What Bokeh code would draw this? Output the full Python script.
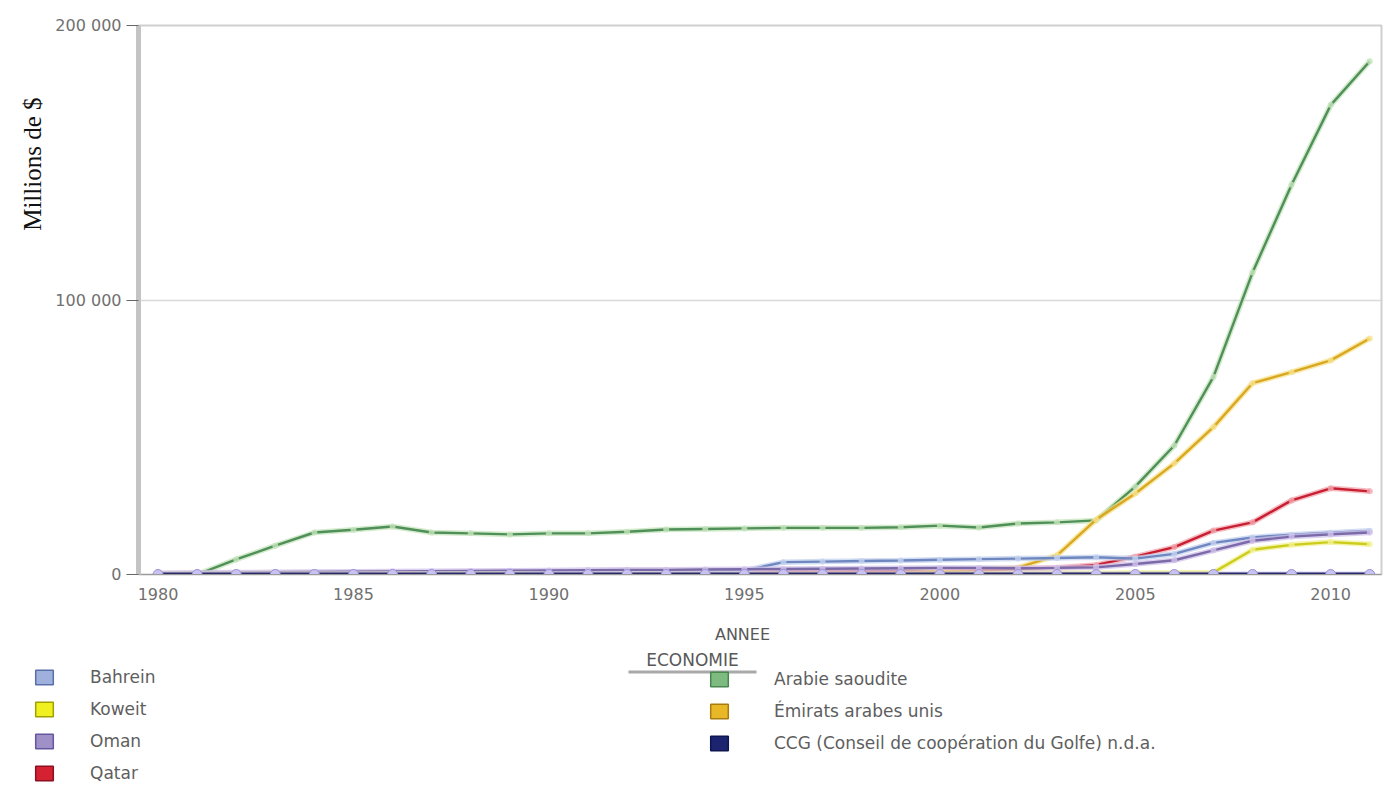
from bokeh.plotting import figure
from bokeh.models import Range1d, FixedTicker, Legend, LegendItem, Label, BoxAnnotation, Title
from bokeh.layouts import column
from bokeh.embed import file_html
from bokeh.resources import INLINE

years = list(range(1980, 2012))

arabie_saoudite = [0, 0, 5500, 10500, 15300, 16300, 17500, 15300, 15000, 14600,
                   15000, 15000, 15600, 16400, 16600, 16800, 17000, 17000, 17000, 17200,
                   17800, 17100, 18600, 19000, 19700, 32000, 47000, 72000, 110000, 142000,
                   171000, 187000]
emirats = [300, 350, 400, 450, 500, 500, 550, 550, 600, 650,
           700, 750, 800, 1000, 1100, 1200, 1300, 1400, 1500, 1600,
           1700, 1800, 2500, 7000, 20000, 29500, 40500, 53700, 69700, 73700,
           78000, 86000]
qatar = [50, 60, 70, 80, 90, 100, 110, 120, 130, 150,
         200, 250, 400, 600, 700, 800, 900, 1000, 1100, 1200,
         1300, 1500, 2000, 2500, 3500, 6500, 10000, 16000, 19000, 27000,
         31400, 30300]
bahrein = [100, 150, 200, 250, 300, 350, 400, 450, 500, 520,
           550, 600, 650, 700, 900, 1400, 4500, 4700, 4900, 5100,
           5400, 5600, 5800, 6000, 6300, 5800, 7500, 11500, 13500, 14500,
           15200, 15900]
oman = [500, 600, 700, 800, 900, 1000, 1100, 1200, 1300, 1400,
        1500, 1600, 1700, 1700, 1800, 1900, 2000, 2100, 2200, 2300,
        2400, 2400, 2300, 2400, 2600, 3800, 5200, 8800, 12300, 13800,
        14600, 15300]
koweit = [80, 90, 100, 110, 120, 130, 140, 150, 160, 170,
          40, 40, 50, 60, 70, 80, 100, 150, 200, 300,
          600, 500, 400, 450, 500, 550, 600, 700, 9000, 10800,
          11800, 11000]
ccg = [0] * 32

x_ticks = [1980, 1985, 1990, 1995, 2000, 2005, 2010]
y_ticks = [0, 100000, 200000]
y_tick_labels = ["0", "100 000", "200 000"]

# name, values, halo colour, core colour, legend fill, legend border
series = [
    ("Arabie saoudite", arabie_saoudite, "#c4e4bb", "#4f8f58", "#7dbb80", "#4a8650"),
    ("Émirats arabes unis", emirats, "#f6e28e", "#d9a820", "#e8b828", "#a87c10"),
    ("Qatar", qatar, "#f2a6ae", "#c81e32", "#d42232", "#8c1020"),
    ("Bahrein", bahrein, "#c4d2ee", "#6f87c0", "#9fb0dc", "#5870a8"),
    ("Oman", oman, "#cfc0ea", "#7a6aa8", "#a090c8", "#6656a0"),
    ("Koweit", koweit, "#f2f296", "#cccc1c", "#f0f020", "#a0a000"),
    ("CCG (Conseil de coopération du Golfe) n.d.a.", ccg, "#c8c2f2", "#2a2a6a", "#1c2470", "#0e1650"),
]

FONT = "DejaVu Sans"
W = 1383

# thin dark rule at the very top
bar = figure(width=W, height=3, output_backend="svg", toolbar_location=None,
             x_axis_type=None, y_axis_type=None, min_border=0)
bar.frame_align = False
bar.background_fill_color = "#1e1e1e"
bar.border_fill_color = "#1e1e1e"
bar.outline_line_color = None
bar.grid.visible = False

# main chart
p = figure(width=W, height=617, output_backend="svg", toolbar_location=None,
           x_range=Range1d(1979.5, 2011.3), y_range=Range1d(0, 200000),
           min_border_left=138, min_border_right=2, min_border_top=22,
           min_border_bottom=46)
p.frame_align = False
p.background_fill_color = "white"
p.border_fill_color = "white"
p.outline_line_color = "#d0d0d0"
p.outline_line_width = 2

for name, vals, halo, core, lf, lb in series:
    is_ccg = name.startswith("CCG")
    p.line(years, vals, line_color=halo, line_width=6 if is_ccg else 5.5, line_alpha=0.75)
    p.line(years, vals, line_color=core, line_width=4 if is_ccg else 2.4)
    if is_ccg:
        p.scatter(years, vals, size=10, fill_color=halo, line_color="#9a92d2", line_width=1)
    else:
        p.scatter(years, vals, size=6, fill_color=halo, line_color=None, fill_alpha=0.8)

p.xgrid.visible = False
p.ygrid.grid_line_color = "#d9d9d9"
p.ygrid.grid_line_width = 1.5
p.ygrid.ticker = FixedTicker(ticks=y_ticks)

p.yaxis.ticker = FixedTicker(ticks=y_ticks)
p.yaxis.major_label_overrides = {t: l for t, l in zip(y_ticks, y_tick_labels)}
p.yaxis.axis_line_color = "#c4c4c4"
p.yaxis.axis_line_width = 5
p.yaxis.major_tick_out = 12
p.yaxis.major_tick_in = 0
p.yaxis.major_tick_line_color = "#666666"
p.yaxis.minor_tick_line_color = None
p.yaxis.major_label_standoff = 5
p.yaxis.major_label_text_font = FONT
p.yaxis.major_label_text_font_size = "16px"
p.yaxis.major_label_text_color = "#707070"

p.xaxis.ticker = FixedTicker(ticks=x_ticks)
p.xaxis.axis_line_color = "#9a9a9a"
p.xaxis.major_tick_out = 0
p.xaxis.major_tick_in = 0
p.xaxis.minor_tick_line_color = None
p.xaxis.major_label_standoff = 13
p.xaxis.major_label_text_font = FONT
p.xaxis.major_label_text_font_size = "16px"
p.xaxis.major_label_text_color = "#707070"

p.add_layout(Title(text="Millions de $", align="right", offset=72, standoff=14,
                   text_font="Liberation Serif", text_font_size="25px",
                   text_font_style="normal", text_color="#111111"), "left")

# legend / axis-title area below the chart
H2 = 171
leg = figure(width=W, height=H2, output_backend="svg", toolbar_location=None,
             x_range=Range1d(0, W), y_range=Range1d(0, H2),
             x_axis_type=None, y_axis_type=None, min_border=0)
leg.frame_align = False
leg.outline_line_color = None
leg.grid.visible = False
leg.background_fill_color = "white"
leg.border_fill_color = "white"

TOP = 620  # page y of this figure's top edge

def ypos(page_y):
    return H2 - (page_y - TOP)

leg.add_layout(Label(x=742, y=ypos(634), text="ANNEE", text_align="center",
                     text_baseline="middle", text_font=FONT, text_font_size="16px",
                     text_color="#585858"))
leg.add_layout(Label(x=692, y=ypos(659), text="ECONOMIE", text_align="center",
                     text_baseline="middle", text_font=FONT, text_font_size="17px",
                     text_color="#585858"))
leg.add_layout(BoxAnnotation(left=628, right=756, top=ypos(670), bottom=ypos(673),
                             fill_color="#a0a0a0", fill_alpha=0.9, line_alpha=0))

# legend swatches: one hidden quad each, placed outside the visible range
glyph_r = {}
for name, vals, halo, core, lf, lb in series:
    glyph_r[name] = leg.quad(left=[-60], right=[-50], top=[-50], bottom=[-60], fill_color=lf,
                             line_color=lb, line_width=1.5)

left_names = ["Bahrein", "Koweit", "Oman", "Qatar"]
right_names = ["Arabie saoudite", "Émirats arabes unis",
               "CCG (Conseil de coopération du Golfe) n.d.a."]

GH, SP = 18, 12

def make_legend(names, x_left, first_row_y, standoff):
    n = len(names)
    height = n * GH + (n - 1) * SP
    top_page = first_row_y - GH / 2
    bottom = ypos(top_page) - height
    return Legend(items=[LegendItem(label=n_, renderers=[glyph_r[n_]]) for n_ in names],
                  location=(x_left, bottom), orientation="vertical", padding=0, margin=0,
                  glyph_width=22, glyph_height=GH, label_height=GH, spacing=SP,
                  label_standoff=standoff, border_line_alpha=0, background_fill_alpha=0,
                  label_text_font=FONT, label_text_font_size="17px",
                  label_text_color="#5e5e5e")

leg.add_layout(make_legend(left_names, 33, 684, 35))
leg.add_layout(make_legend(right_names, 708, 684, 44))

layout = column(bar, p, leg, spacing=0)
open("out.html", "w").write(file_html(layout, INLINE))
